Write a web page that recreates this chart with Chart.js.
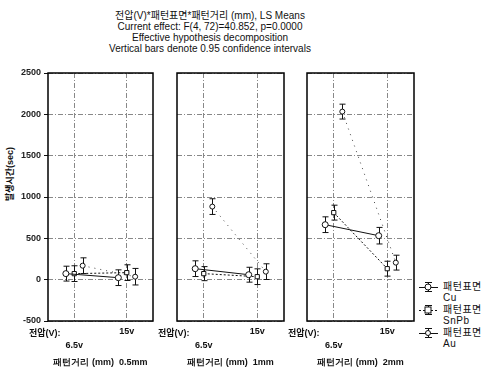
<!DOCTYPE html>
<html>
<head>
<meta charset="utf-8">
<script src="https://cdn.jsdelivr.net/npm/chart.js@4.4.1/dist/chart.umd.min.js"></script>
<style>
  body { margin: 0; background: #fff; width: 486px; height: 377px; overflow: hidden; position: relative;
         font-family: "Liberation Sans", Arial, "Noto Sans CJK KR", sans-serif; color: #111; }
  canvas { position: absolute; }
  .txt { position: absolute; white-space: nowrap; }
  #title { left: 0; width: 420px; top: 10px; text-align: center; font-size: 10px; line-height: 11px; }
  #ylab { left: 9px; top: 174px; font-size: 9px; font-weight: bold; transform: translate(-50%, -50%) rotate(-90deg); }
  .volt { font-size: 9px; font-weight: bold; top: 326px; }
  .leg { left: 443px; font-size: 10px; line-height: 11px; letter-spacing: 0.5px; }
  .sym { position: absolute; left: 419px; }
</style>
</head>
<body>

<div id="title" class="txt">전압(V)*패턴표면*패턴거리 (mm), LS Means<br>Current effect: F(4, 72)=40.852, p=0.0000<br>Effective hypothesis decomposition<br>Vertical bars denote 0.95 confidence intervals</div>
<div id="ylab" class="txt">발생시간(sec)</div>
<div id="legend"></div>

<script>
// ---- 데이터 ----
const distances = ['0.5mm', '1mm', '2mm'];
const voltages = ['6.5v', '15v'];
const surfaces = ['Cu', 'SnPb', 'Au'];
// 순서: [0.5mm 6.5v, 0.5mm 15v, 1mm 6.5v, 1mm 15v, 2mm 6.5v, 2mm 15v]
const cuMean   = [73, 24, 133, 60, 665, 532];
const snpbMean = [73, 85, 73, 36, 811, 133];
const auMean   = [169, 36, 884, 97, 2033, 206];
// 95% 신뢰구간 반폭
const cuCI   = [90, 95, 95, 90, 95, 100];
const snpbCI = [95, 95, 85, 95, 90, 90];
const auCI   = [95, 100, 95, 95, 90, 90];
const yTicks = [-500, 0, 500, 1000, 1500, 2000, 2500];

// ---- 스타일 ----
const panelLeft = [48, 177, 307];
const panelRight = [153, 284, 414];
const areaTop = 73, areaBottom = 321, xAxisH = 50, padTop = 10;

const seriesStyle = [
  { mean: cuMean,   ci: cuCI,   shape: 'circle', r: 3,   dash: [],     color: '#111', off: -0.16 },
  { mean: snpbMean, ci: snpbCI, shape: 'rect',   r: 3,   dash: [2, 2], color: '#111', off: 0 },
  { mean: auMean,   ci: auCI,   shape: 'circle', r: 2.5, dash: [1, 5], color: '#444', off: 0.16 }
];

// 오차막대
const errorBars = {
  id: 'errorBars',
  beforeDatasetsDraw(chart) {
    const { ctx, scales: { x, y } } = chart;
    ctx.save();
    ctx.strokeStyle = '#111';
    ctx.lineWidth = 1;
    ctx.setLineDash([]);
    chart.data.datasets.forEach(ds => {
      ds.data.forEach((pt, k) => {
        const px = Math.round(x.getPixelForValue(pt.x)) + 0.5;
        const hi = y.getPixelForValue(pt.y + ds.ci[k]);
        const lo = y.getPixelForValue(pt.y - ds.ci[k]);
        ctx.beginPath();
        ctx.moveTo(px, hi); ctx.lineTo(px, lo);
        ctx.moveTo(px - 3, hi); ctx.lineTo(px + 3, hi);
        ctx.moveTo(px - 3, lo); ctx.lineTo(px + 3, lo);
        ctx.stroke();
      });
    });
    ctx.restore();
  }
};

// 테두리
const frame = {
  id: 'frame',
  afterDraw(chart) {
    const { ctx, chartArea: a } = chart;
    ctx.save();
    ctx.strokeStyle = '#000';
    ctx.lineWidth = 1.5;
    ctx.strokeRect(a.left, a.top, a.right - a.left, a.bottom - a.top);
    ctx.restore();
  }
};

distances.forEach((dist, p) => {
  const yAxisW = p === 0 ? 48 : 0;
  const padL = p === 0 ? 0 : 10;
  const left = panelLeft[p] - yAxisW - padL;
  const width = panelRight[p] + 10 - left;
  const top = areaTop - padTop;
  const height = areaBottom + xAxisH - top;

  const canvas = document.createElement('canvas');
  canvas.width = width; canvas.height = height;
  canvas.style.left = left + 'px'; canvas.style.top = top + 'px';
  document.body.appendChild(canvas);

  const lbl = document.createElement('div');
  lbl.className = 'txt volt';
  lbl.style.left = (panelLeft[p] - 19) + 'px';
  lbl.textContent = '전압(V):';
  document.body.appendChild(lbl);

  new Chart(canvas.getContext('2d'), {
    type: 'line',
    data: {
      datasets: seriesStyle.map((s, si) => ({
        label: surfaces[si],
        data: voltages.map((v, j) => ({ x: j + s.off, y: s.mean[p * 2 + j] })),
        ci: voltages.map((v, j) => s.ci[p * 2 + j]),
        borderColor: s.color,
        borderWidth: 1,
        borderDash: s.dash,
        pointStyle: s.shape,
        pointRadius: s.r,
        pointBackgroundColor: '#fff',
        pointBorderColor: '#111',
        pointBorderWidth: 1,
        tension: 0
      }))
    },
    options: {
      responsive: false,
      animation: false,
      devicePixelRatio: 1,
      layout: { padding: { left: padL, right: 10, top: padTop, bottom: 0 } },
      plugins: { legend: { display: false }, tooltip: { enabled: false } },
      scales: {
        x: {
          type: 'linear', min: -0.5, max: 1.5,
          afterBuildTicks: s => { s.ticks = voltages.map((v, j) => ({ value: j })); },
          afterFit: s => { s.height = xAxisH; },
          grid: { color: '#888', lineWidth: 1, drawTicks: false },
          border: { display: false, dash: [5, 2, 1, 2] },
          ticks: {
            autoSkip: false, maxRotation: 0, padding: 4,
            font: { size: 9, weight: 'bold', lineHeight: 1.5 }, color: '#111',
            callback: v => (v % 2 === 0 ? ['', voltages[v]] : [voltages[v], ''])
          },
          title: {
            display: true, text: '패턴거리 (mm)  ' + dist,
            font: { size: 9, weight: 'bold' }, color: '#111',
            padding: { top: 0, bottom: 3 }
          }
        },
        y: {
          min: -500, max: 2500,
          afterBuildTicks: s => { s.ticks = yTicks.map(v => ({ value: v })); },
          afterFit: s => { s.width = yAxisW; },
          grid: { color: '#888', lineWidth: 1, drawTicks: p === 0, tickLength: 4, tickColor: '#111' },
          border: { display: false, dash: [5, 2, 1, 2] },
          ticks: {
            display: p === 0, padding: 3,
            font: { size: 9, weight: 'bold' }, color: '#222',
            callback: v => String(v)
          }
        }
      }
    },
    plugins: [errorBars, frame]
  });
});

// 범례
const legendY = [287, 310, 333];
const legendDash = ['', '2,2', ''];
const legendShape = ['circle', 'rect', 'circle'];
const legend = document.getElementById('legend');
surfaces.forEach((s, i) => {
  const y = legendY[i];
  const marker = legendShape[i] === 'rect'
    ? '<rect x="6" y="3" width="6" height="6" fill="#fff" stroke="#111"/>'
    : '<circle cx="9" cy="6" r="' + (i === 2 ? 2.5 : 3) + '" fill="#fff" stroke="#111"/>';
  legend.insertAdjacentHTML('beforeend',
    '<svg class="sym" style="top:' + (y - 6) + 'px" width="19" height="12">' +
    '<line x1="0" y1="6.5" x2="19" y2="6.5" stroke="#111" stroke-width="1" stroke-dasharray="' + legendDash[i] + '"/>' +
    '<line x1="9.5" y1="1" x2="9.5" y2="11" stroke="#111"/>' +
    '<line x1="6" y1="1.5" x2="13" y2="1.5" stroke="#111"/>' +
    '<line x1="6" y1="10.5" x2="13" y2="10.5" stroke="#111"/>' + marker + '</svg>' +
    '<div class="txt leg" style="top:' + (y - 6) + 'px">패턴표면<br>' + s + '</div>');
});
</script>
</body>
</html>
